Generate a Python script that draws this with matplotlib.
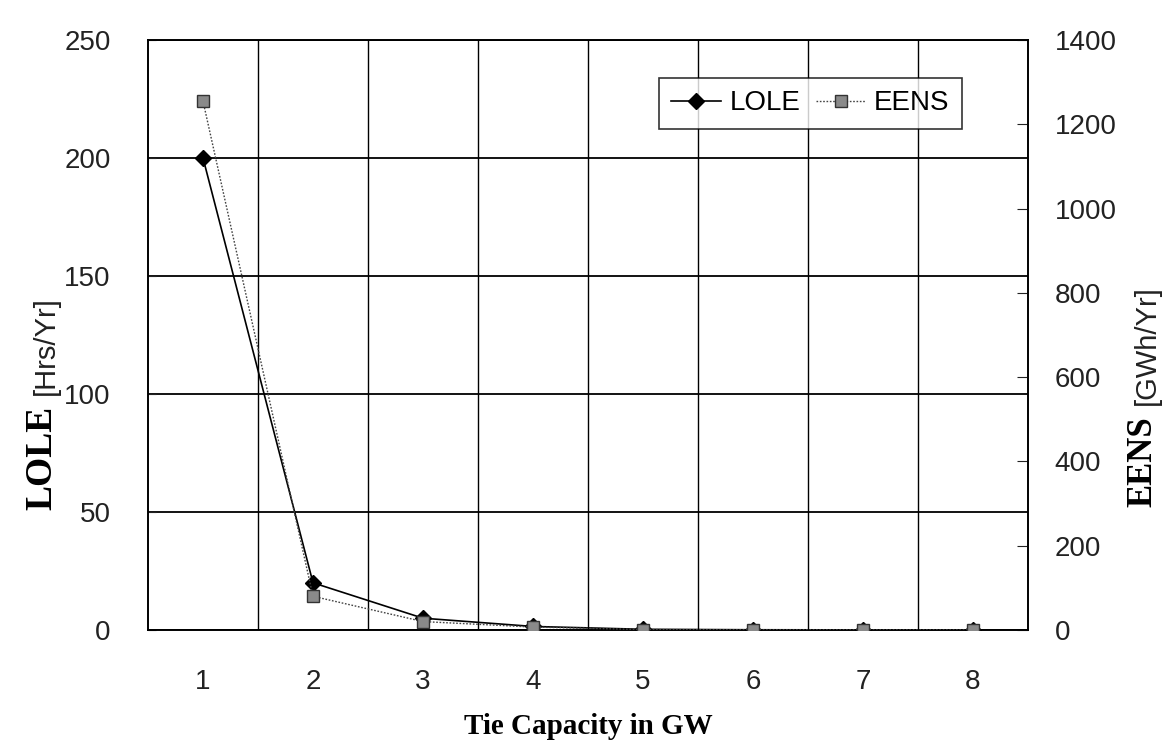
import matplotlib
matplotlib.use('Agg')
import matplotlib.pyplot as plt
from matplotlib.ticker import MultipleLocator

# Datos
tie_capacity = ['1', '2', '3', '4', '5', '6', '7', '8']
lole = [200, 20, 5, 1.5, 0.3, 0.1, 0.05, 0.02]      # Hrs/Yr
eens = [1255, 80, 20, 7, 1, 0.5, 0.3, 0.1]          # GWh/Yr

plt.rcParams['font.family'] = ['Liberation Sans', 'DejaVu Sans']

W, H = 1176, 742
fig = plt.figure(figsize=(W / 100, H / 100), dpi=100)
ax = fig.add_axes([148 / W, 1 - 630 / H, 880 / W, 590 / H])
ax2 = ax.twinx()

x = list(range(len(tie_capacity)))

ax.plot(x, lole, color='black', lw=1.2, marker='D', ms=8, mfc='black', mec='black', label='LOLE', zorder=3)
ax2.plot(x, eens, color='#444444', lw=1.0, ls=(0, (1.2, 1.2)), marker='s', ms=9,
         mfc='#8a8a8a', mec='#333333', mew=1.0, label='EENS', zorder=3)

ax.set_xlim(-0.5, len(x) - 0.5)
ax.set_ylim(0, 250)
ax2.set_ylim(0, 1400)

ax.set_xticks(x)
ax.set_xticklabels(tie_capacity)
ax.set_xticks([i + 0.5 for i in x[:-1]], minor=True)
ax.yaxis.set_major_locator(MultipleLocator(50))
ax2.yaxis.set_major_locator(MultipleLocator(200))

ax.grid(True, which='minor', axis='x', color='black', lw=1.0)
ax.grid(True, which='major', axis='y', color='black', lw=1.3)
ax.set_axisbelow(True)

ax.tick_params(axis='x', which='both', length=0, labelsize=20, pad=28, colors='#222222')
ax.tick_params(axis='y', direction='in', length=6, labelsize=20, pad=27, colors='#222222')
ax2.tick_params(axis='y', direction='in', length=8, labelsize=20, pad=19, colors='#222222')

for a in (ax, ax2):
    for sp in a.spines.values():
        sp.set_color('black')
        sp.set_linewidth(1.2)

# Etiquetas de ejes: nombre en negrita serif seguido de las unidades
renderer = fig.canvas.get_renderer()


def vertical_label(xpix, ybottom, bold_part, units, size):
    t1 = fig.text(xpix / W, 1 - ybottom / H, bold_part, rotation=90, ha='center', va='bottom',
                  family='Liberation Serif', fontweight='bold', fontsize=size)
    bb = t1.get_window_extent(renderer)
    top = (bb.y1 + 11) / H
    fig.text((xpix + 4) / W, top, units, rotation=90, ha='center', va='bottom',
             fontsize=21, color='#222222')


vertical_label(42, 510, 'LOLE', '[Hrs/Yr]', 27)
vertical_label(1143, 507, 'EENS', '[GWh/Yr]', 25)

fig.text(588 / W, 1 - 726 / H, 'Tie Capacity in GW', ha='center', va='center',
         family='Liberation Serif', fontweight='bold', fontsize=21)

h1, l1 = ax.get_legend_handles_labels()
h2, l2 = ax2.get_legend_handles_labels()
leg = ax2.legend(h1 + h2, l1 + l2, ncol=2, loc='upper right',
                 bbox_to_anchor=((962 - 148) / 880, (630 - 78) / 590), borderaxespad=0,
                 fontsize=20, frameon=True, fancybox=False, edgecolor='black',
                 handlelength=1.8, columnspacing=0.55, handletextpad=0.3, borderpad=0.45)
leg.get_frame().set_linewidth(1.2)

fig.savefig('out.png', dpi=100)
